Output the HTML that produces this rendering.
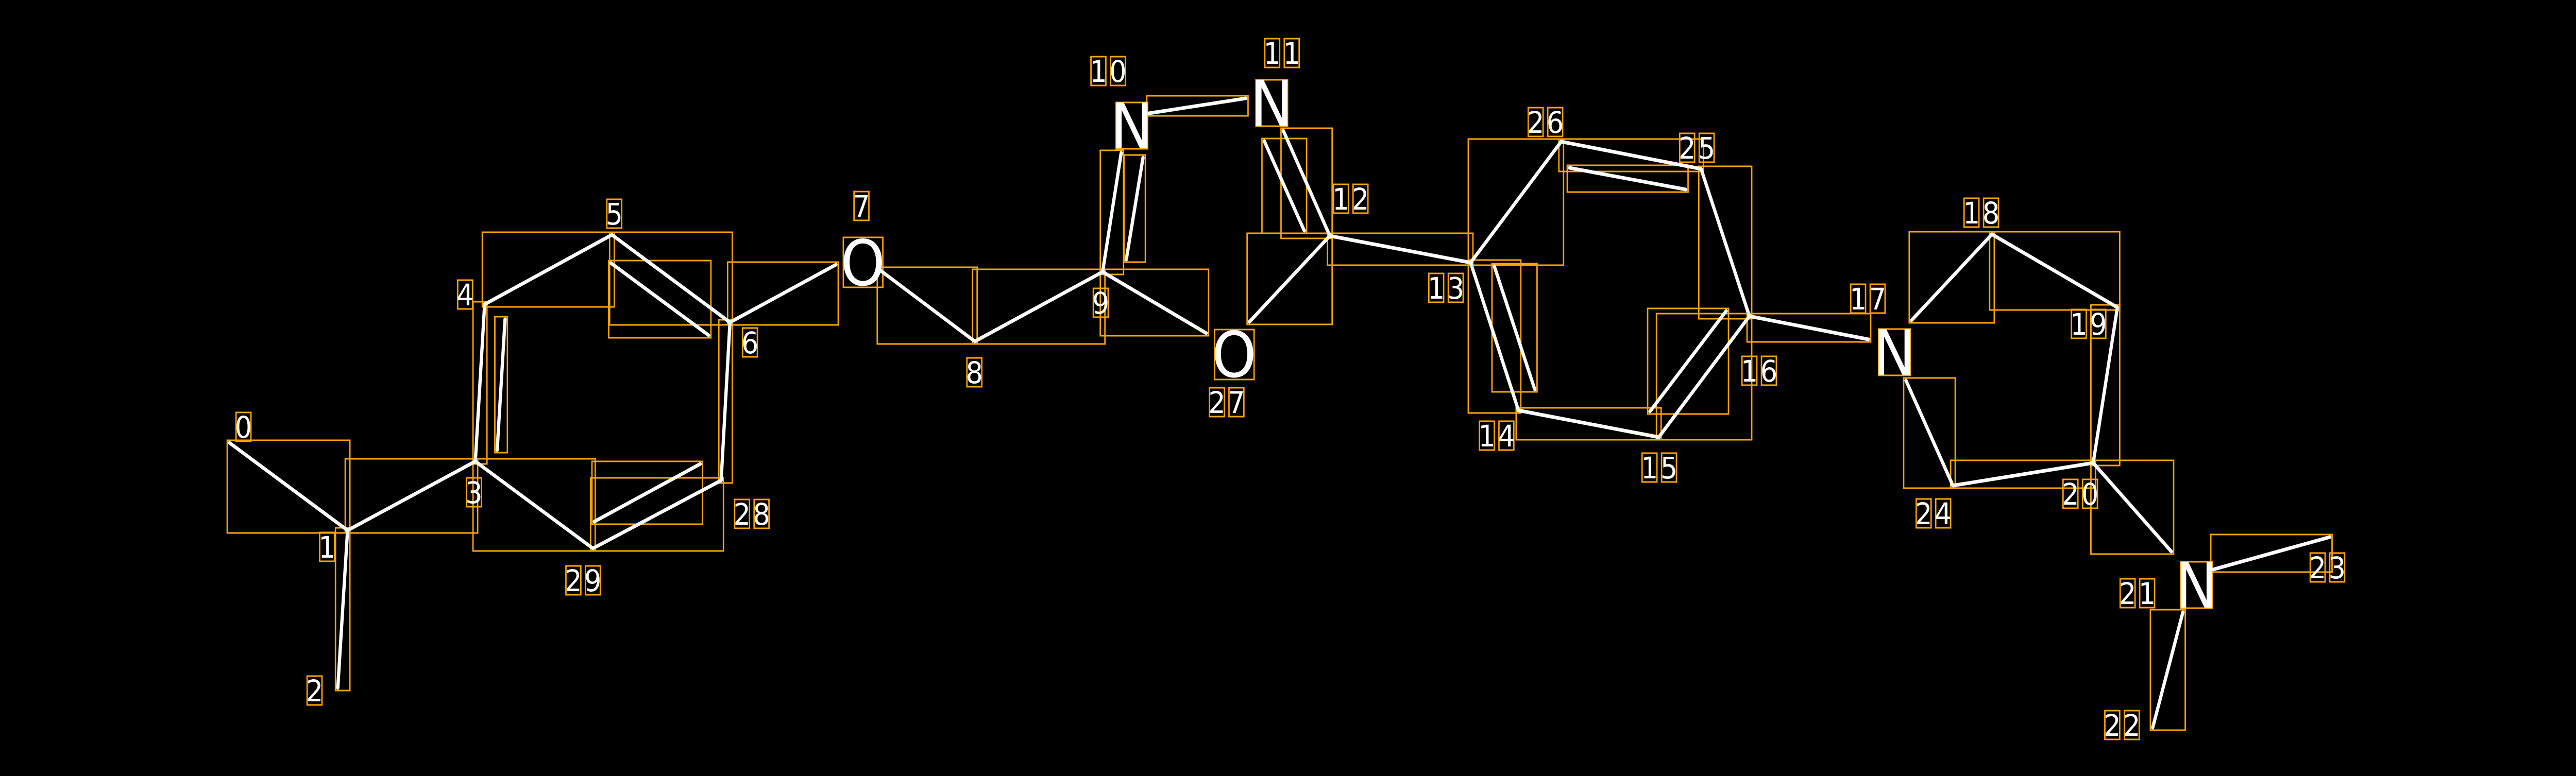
<!DOCTYPE html>
<html><head><meta charset="utf-8"><style>
html,body{margin:0;padding:0;background:#000;overflow:hidden;width:100%;height:100%;}
svg{display:block;width:100vw;height:100vh;}
text{font-family:"DejaVu Sans","Liberation Sans",sans-serif;fill:#fff;text-anchor:middle;}
.d{font-size:58px;}
.s{font-size:122px;}
.l{stroke:#fff;stroke-width:7;stroke-linecap:round;}
.b{fill:none;stroke:#FFA500;stroke-width:3;}
</style></head><body>
<svg viewBox="0 0 5544 1507" preserveAspectRatio="none" xmlns="http://www.w3.org/2000/svg">
<rect width="5544" height="1507" fill="#000"/>
<g class="b">
<rect x="489" y="855" width="264" height="180"/>
<rect x="722" y="1025" width="31" height="316"/>
<rect x="743" y="891" width="285" height="144"/>
<rect x="1018" y="586" width="30" height="315"/>
<rect x="1065" y="615" width="27" height="264"/>
<rect x="1038" y="451" width="284" height="145"/>
<rect x="1312" y="451" width="264" height="180"/>
<rect x="1310" y="506" width="220" height="150"/>
<rect x="1018" y="891" width="263" height="179"/>
<rect x="1271" y="928" width="286" height="142"/>
<rect x="1274" y="896" width="238" height="122"/>
<rect x="1547" y="621" width="29" height="317"/>
<rect x="1566" y="509" width="238" height="122"/>
<rect x="1888" y="519" width="215" height="149"/>
<rect x="2093" y="523" width="285" height="145"/>
<rect x="2368" y="292" width="50" height="241"/>
<rect x="2419" y="301" width="46" height="208"/>
<rect x="2468" y="186" width="218" height="39"/>
<rect x="2757" y="249" width="110" height="214"/>
<rect x="2716" y="269" width="96" height="184"/>
<rect x="2368" y="523" width="233" height="129"/>
<rect x="2684" y="453" width="183" height="177"/>
<rect x="2857" y="453" width="313" height="62"/>
<rect x="3160" y="270" width="205" height="245"/>
<rect x="3355" y="270" width="311" height="63"/>
<rect x="3373" y="321" width="260" height="52"/>
<rect x="3656" y="323" width="114" height="296"/>
<rect x="3565" y="609" width="205" height="245"/>
<rect x="3546" y="599" width="174" height="205"/>
<rect x="3263" y="792" width="312" height="62"/>
<rect x="3160" y="505" width="113" height="297"/>
<rect x="3211" y="512" width="97" height="249"/>
<rect x="3760" y="609" width="266" height="55"/>
<rect x="4109" y="450" width="183" height="177"/>
<rect x="4282" y="450" width="280" height="152"/>
<rect x="4500" y="592" width="62" height="312"/>
<rect x="4198" y="894" width="312" height="54"/>
<rect x="4097" y="734" width="111" height="214"/>
<rect x="4500" y="894" width="178" height="182"/>
<rect x="4758" y="1038" width="261" height="73"/>
<rect x="4628" y="1184" width="75" height="234"/>
<rect x="1815" y="461" width="85" height="97"/>
<rect x="2614" y="640" width="85" height="97"/>
<rect x="2402" y="199" width="68" height="90"/>
<rect x="2703" y="155" width="68" height="90"/>
<rect x="4043" y="639" width="68" height="90"/>
<rect x="4693" y="1091" width="68" height="90"/>
<rect x="508" y="801" width="32" height="56"/>
<rect x="688" y="1034" width="32" height="56"/>
<rect x="661" y="1313" width="32" height="56"/>
<rect x="1004" y="928" width="32" height="56"/>
<rect x="985" y="544" width="32" height="56"/>
<rect x="1306" y="387" width="32" height="56"/>
<rect x="1598" y="637" width="32" height="56"/>
<rect x="1838" y="372" width="32" height="56"/>
<rect x="2081" y="695" width="32" height="56"/>
<rect x="2353" y="560" width="32" height="56"/>
<rect x="2348" y="110" width="32" height="56"/><rect x="2390" y="110" width="32" height="56"/>
<rect x="2722" y="75" width="32" height="56"/><rect x="2764" y="75" width="32" height="56"/>
<rect x="2870" y="358" width="32" height="56"/><rect x="2912" y="358" width="32" height="56"/>
<rect x="3075" y="531" width="32" height="56"/><rect x="3117" y="531" width="32" height="56"/>
<rect x="3184" y="818" width="32" height="56"/><rect x="3226" y="818" width="32" height="56"/>
<rect x="3534" y="880" width="32" height="56"/><rect x="3576" y="880" width="32" height="56"/>
<rect x="3749" y="692" width="32" height="56"/><rect x="3791" y="692" width="32" height="56"/>
<rect x="3983" y="552" width="32" height="56"/><rect x="4025" y="552" width="32" height="56"/>
<rect x="4227" y="385" width="32" height="56"/><rect x="4269" y="385" width="32" height="56"/>
<rect x="4458" y="601" width="32" height="56"/><rect x="4500" y="601" width="32" height="56"/>
<rect x="4440" y="931" width="32" height="56"/><rect x="4482" y="931" width="32" height="56"/>
<rect x="4563" y="1124" width="32" height="56"/><rect x="4605" y="1124" width="32" height="56"/>
<rect x="4530" y="1380" width="32" height="56"/><rect x="4572" y="1380" width="32" height="56"/>
<rect x="4972" y="1074" width="32" height="56"/><rect x="5014" y="1074" width="32" height="56"/>
<rect x="4124" y="969" width="32" height="56"/><rect x="4166" y="969" width="32" height="56"/>
<rect x="3615" y="259" width="32" height="56"/><rect x="3657" y="259" width="32" height="56"/>
<rect x="3289" y="209" width="32" height="56"/><rect x="3331" y="209" width="32" height="56"/>
<rect x="2603" y="753" width="32" height="56"/><rect x="2645" y="753" width="32" height="56"/>
<rect x="1581" y="970" width="32" height="56"/><rect x="1623" y="970" width="32" height="56"/>
<rect x="1218" y="1099" width="32" height="56"/><rect x="1260" y="1099" width="32" height="56"/>
</g>
<g class="l">
<line x1="494" y1="860" x2="748" y2="1030"/>
<line x1="748" y1="1030" x2="727" y2="1336"/>
<line x1="748" y1="1030" x2="1023" y2="896"/>
<line x1="1023" y1="896" x2="1043" y2="591"/>
<line x1="1070" y1="874" x2="1087" y2="620"/>
<line x1="1043" y1="591" x2="1317" y2="456"/>
<line x1="1317" y1="456" x2="1571" y2="626"/>
<line x1="1315" y1="511" x2="1525" y2="651"/>
<line x1="1023" y1="896" x2="1276" y2="1065"/>
<line x1="1276" y1="1065" x2="1552" y2="933"/>
<line x1="1279" y1="1013" x2="1507" y2="901"/>
<line x1="1552" y1="933" x2="1571" y2="626"/>
<line x1="1571" y1="626" x2="1799" y2="514"/>
<line x1="1893" y1="524" x2="2098" y2="663"/>
<line x1="2098" y1="663" x2="2373" y2="528"/>
<line x1="2373" y1="528" x2="2413" y2="297"/>
<line x1="2424" y1="504" x2="2460" y2="306"/>
<line x1="2473" y1="220" x2="2681" y2="191"/>
<line x1="2762" y1="254" x2="2862" y2="458"/>
<line x1="2721" y1="274" x2="2807" y2="448"/>
<line x1="2373" y1="528" x2="2596" y2="647"/>
<line x1="2862" y1="458" x2="2689" y2="625"/>
<line x1="2862" y1="458" x2="3165" y2="510"/>
<line x1="3165" y1="510" x2="3360" y2="275"/>
<line x1="3360" y1="275" x2="3661" y2="328"/>
<line x1="3378" y1="326" x2="3628" y2="368"/>
<line x1="3661" y1="328" x2="3765" y2="614"/>
<line x1="3765" y1="614" x2="3570" y2="849"/>
<line x1="3715" y1="604" x2="3551" y2="799"/>
<line x1="3570" y1="849" x2="3268" y2="797"/>
<line x1="3268" y1="797" x2="3165" y2="510"/>
<line x1="3216" y1="517" x2="3303" y2="756"/>
<line x1="3765" y1="614" x2="4021" y2="659"/>
<line x1="4114" y1="622" x2="4287" y2="455"/>
<line x1="4287" y1="455" x2="4557" y2="597"/>
<line x1="4557" y1="597" x2="4505" y2="899"/>
<line x1="4505" y1="899" x2="4203" y2="943"/>
<line x1="4203" y1="943" x2="4102" y2="739"/>
<line x1="4505" y1="899" x2="4673" y2="1071"/>
<line x1="4763" y1="1106" x2="5014" y2="1043"/>
<line x1="4698" y1="1189" x2="4633" y2="1413"/>
</g>
<g class="s">
<text x="1857" y="554">O</text>
<text x="2656" y="732">O</text>
<text x="2436" y="288">N</text>
<text x="2737" y="244">N</text>
<text x="4077" y="728">N</text>
<text x="4727" y="1180">N</text>
</g>
<g class="d">
<text x="524" y="850">0</text>
<text x="704" y="1083">1</text>
<text x="677" y="1362">2</text>
<text x="1020" y="977">3</text>
<text x="1001" y="593">4</text>
<text x="1322" y="436">5</text>
<text x="1614" y="686">6</text>
<text x="1854" y="421">7</text>
<text x="2097" y="744">8</text>
<text x="2369" y="609">9</text>
<text x="2364" y="159">1</text><text x="2406" y="159">0</text>
<text x="2738" y="124">1</text><text x="2780" y="124">1</text>
<text x="2886" y="407">1</text><text x="2928" y="407">2</text>
<text x="3091" y="580">1</text><text x="3133" y="580">3</text>
<text x="3200" y="867">1</text><text x="3242" y="867">4</text>
<text x="3550" y="929">1</text><text x="3592" y="929">5</text>
<text x="3765" y="741">1</text><text x="3807" y="741">6</text>
<text x="3999" y="601">1</text><text x="4041" y="601">7</text>
<text x="4243" y="434">1</text><text x="4285" y="434">8</text>
<text x="4474" y="650">1</text><text x="4516" y="650">9</text>
<text x="4456" y="980">2</text><text x="4498" y="980">0</text>
<text x="4579" y="1173">2</text><text x="4621" y="1173">1</text>
<text x="4546" y="1429">2</text><text x="4588" y="1429">2</text>
<text x="4988" y="1123">2</text><text x="5030" y="1123">3</text>
<text x="4140" y="1018">2</text><text x="4182" y="1018">4</text>
<text x="3631" y="308">2</text><text x="3673" y="308">5</text>
<text x="3305" y="258">2</text><text x="3347" y="258">6</text>
<text x="2619" y="802">2</text><text x="2661" y="802">7</text>
<text x="1597" y="1019">2</text><text x="1639" y="1019">8</text>
<text x="1234" y="1148">2</text><text x="1276" y="1148">9</text>
</g>
</svg>
</body></html>
